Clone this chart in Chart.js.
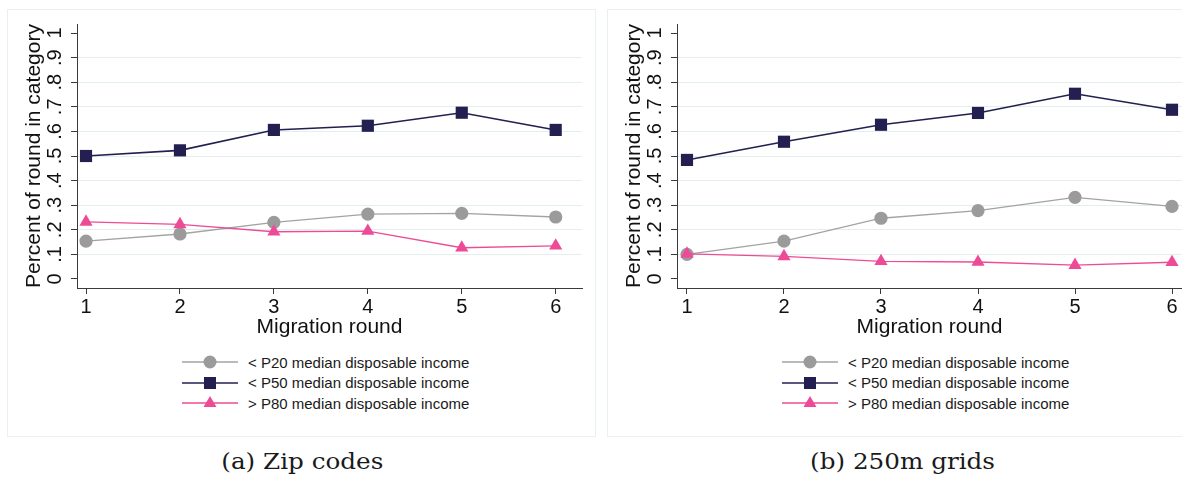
<!DOCTYPE html>
<html>
<head>
<meta charset="utf-8">
<script src="https://cdn.jsdelivr.net/npm/chart.js@4"></script>
<style>
  html, body { margin: 0; padding: 0; background: #fff; }
  body { width: 1182px; height: 482px; position: relative; overflow: hidden; font-family: "Liberation Sans", Arial, sans-serif; }
  .panel { position: absolute; top: 9px; width: 589px; height: 428px; border: 1px solid #e9f0f0; box-sizing: border-box; }
  .plot { position: absolute; top: 9px; width: 590px; height: 331px; }
  .legend { position: absolute; top: 352px; }
  .legend .row { display: flex; align-items: center; height: 20.5px; font-size: 15px; color: #1a1a1a; white-space: nowrap; }
  .legend svg { display: block; margin-right: 10px; }
  .caption { position: absolute; top: 449px; width: 400px; text-align: center; font-family: "DejaVu Serif", serif; font-size: 22px; color: #1a1a1a; }
  .caption span { display: inline-block; transform: scaleX(1.12); }
</style>
</head>
<body>
<div class="panel" style="left:7px"></div>
<div class="panel" style="left:607px; width:600px"></div>
<div class="plot" style="left:7px"><canvas id="zipChart"></canvas></div>
<div class="plot" style="left:607px"><canvas id="gridChart"></canvas></div>
<div class="legend" id="zipLegend" style="left:182px"></div>
<div class="legend" id="gridLegend" style="left:782px"></div>
<div class="caption" style="left:102px"><span>(a) Zip codes</span></div>
<div class="caption" style="left:703px"><span>(b) 250m grids</span></div>

<script>
// ---- data ----
const rounds = [1, 2, 3, 4, 5, 6];
const yTickValues = [0, 0.1, 0.2, 0.3, 0.4, 0.5, 0.6, 0.7, 0.8, 0.9, 1];
const yTickLabels = ['0', '.1', '.2', '.3', '.4', '.5', '.6', '.7', '.8', '.9', '1'];
const seriesLabels = ['< P20 median disposable income', '< P50 median disposable income', '> P80 median disposable income'];

// (a) zip codes
const zipP20 = [0.154, 0.183, 0.230, 0.264, 0.267, 0.252];
const zipP50 = [0.500, 0.523, 0.606, 0.623, 0.676, 0.606];
const zipP80 = [0.232, 0.222, 0.192, 0.195, 0.127, 0.135];

// (b) 250m grids
const gridP20 = [0.100, 0.154, 0.247, 0.278, 0.332, 0.295];
const gridP50 = [0.484, 0.558, 0.627, 0.675, 0.753, 0.688];
const gridP80 = [0.102, 0.092, 0.072, 0.069, 0.056, 0.068];

(function () {
  'use strict';

  const FONT = '"Liberation Sans", Arial, sans-serif';
  const AXIS = '#3a3a3a';
  const GRID = '#e4edf0';
  const TEXT = '#111111';

  // estilo por serie: gris círculo, navy cuadrado, rosa triángulo
  const STYLES = [
    { color: '#9b9b9b', line: '#a3a3a3', width: 1.3, shape: 'circle', radius: 6.6 },
    { color: '#231f50', line: '#231f50', width: 1.6, shape: 'rect', radius: 8.6 },
    { color: '#ee4b96', line: '#ee4b96', width: 1.3, shape: 'triangle', radius: 7.6 },
  ];

  // etiquetas del eje y giradas (estilo Stata)
  const rotatedYLabels = {
    id: 'rotatedYLabels',
    afterDraw(chart) {
      const ys = chart.scales.y;
      const ctx = chart.ctx;
      ctx.save();
      ctx.font = '20px ' + FONT;
      ctx.fillStyle = TEXT;
      ctx.textAlign = 'center';
      ctx.textBaseline = 'middle';
      yTickValues.forEach((v, i) => {
        ctx.save();
        ctx.translate(ys.right - 22, ys.getPixelForValue(v));
        ctx.rotate(-Math.PI / 2);
        ctx.fillText(yTickLabels[i], 0, 0);
        ctx.restore();
      });
      ctx.restore();
    },
  };

  function panel(canvasEl, values, xMin, xMax) {
    return new Chart(canvasEl, {
      type: 'line',
      data: {
        datasets: values.map((vals, k) => ({
          label: seriesLabels[k],
          data: rounds.map((r, i) => ({ x: r, y: vals[i] })),
          borderColor: STYLES[k].line,
          backgroundColor: STYLES[k].color,
          borderWidth: STYLES[k].width,
          pointStyle: STYLES[k].shape,
          pointRadius: STYLES[k].radius,
          pointBackgroundColor: STYLES[k].color,
          pointBorderWidth: 0,
          tension: 0,
          order: 3 - k,
        })),
      },
      options: {
        responsive: true,
        maintainAspectRatio: false,
        animation: false,
        events: [],
        layout: { padding: { left: 0, right: 15, top: 15, bottom: 0 } },
        plugins: { legend: { display: false }, tooltip: { enabled: false } },
        scales: {
          x: {
            type: 'linear',
            min: xMin,
            max: xMax,
            afterBuildTicks: (s) => { s.ticks = rounds.map((v) => ({ value: v })); },
            afterFit: (s) => { s.height = 52; },
            ticks: { callback: (v) => String(v), font: { family: FONT, size: 20 }, color: TEXT, padding: 1, maxRotation: 0, autoSkip: false },
            grid: { drawOnChartArea: false, tickLength: 6, tickColor: AXIS },
            border: { color: AXIS, width: 1 },
            title: { display: true, text: 'Migration round', font: { family: FONT, size: 21 }, color: TEXT, padding: 0 },
          },
          y: {
            min: -0.0366,
            max: 1.0366,
            afterBuildTicks: (s) => { s.ticks = yTickValues.map((v) => ({ value: v })); },
            afterFit: (s) => { s.width = 70; },
            ticks: { display: false },
            grid: {
              color: (c) => (c.tick && (c.tick.value < 0.01 || c.tick.value > 0.99) ? 'rgba(0,0,0,0)' : GRID),
              tickLength: 6,
              tickColor: AXIS,
            },
            border: { color: AXIS, width: 1 },
            title: { display: true, text: 'Percent of round in category', font: { family: FONT, size: 21 }, color: TEXT, padding: { top: 15, bottom: 0 } },
          },
        },
      },
      plugins: [rotatedYLabels],
    });
  }

  function markerSvg(st) {
    const c = st.color;
    let m = '';
    if (st.shape === 'circle') m = `<circle cx="28" cy="10" r="6.5" fill="${c}"/>`;
    else if (st.shape === 'rect') m = `<rect x="22" y="4" width="12" height="12" fill="${c}"/>`;
    else m = `<polygon points="28,3 34.5,14 21.5,14" fill="${c}"/>`;
    return `<svg width="56" height="20"><line x1="0" y1="10" x2="56" y2="10" stroke="${st.line}" stroke-width="${st.width}"/>${m}</svg>`;
  }

  function legend(el) {
    el.innerHTML = seriesLabels.map((t, k) => `<div class="row">${markerSvg(STYLES[k])}<span></span></div>`).join('');
    el.querySelectorAll('span').forEach((s, k) => { s.textContent = seriesLabels[k]; });
  }

  panel(document.getElementById('zipChart'), [zipP20, zipP50, zipP80], 0.904, 6.28);
  panel(document.getElementById('gridChart'), [gridP20, gridP50, gridP80], 0.897, 6.103);
  legend(document.getElementById('zipLegend'));
  legend(document.getElementById('gridLegend'));
})();
</script>
</body>
</html>
